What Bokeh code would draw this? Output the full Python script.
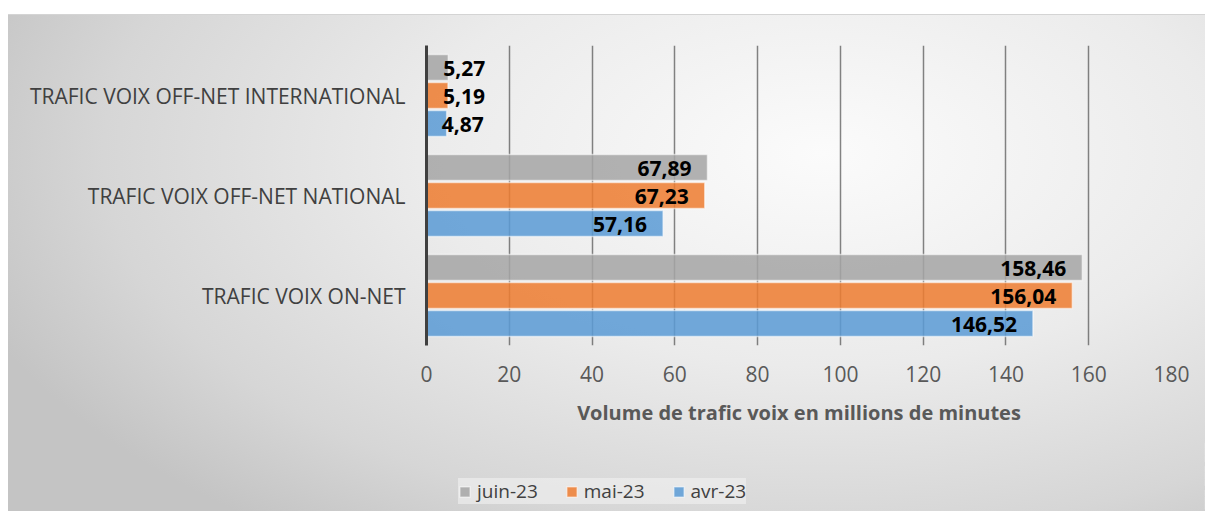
from bokeh.plotting import figure
from bokeh.models import ColumnDataSource, FactorRange, Range1d, Legend, LegendItem
from bokeh.layouts import column
from bokeh.transform import dodge
from bokeh.core.properties import value
from bokeh.embed import file_html
from bokeh.resources import INLINE

categories = ["TRAFIC VOIX ON-NET", "TRAFIC VOIX OFF-NET NATIONAL", "TRAFIC VOIX OFF-NET INTERNATIONAL"]
series_names = ["juin-23", "mai-23", "avr-23"]
juin = [158.46, 67.89, 5.27]
mai = [156.04, 67.23, 5.19]
avr = [146.52, 57.16, 4.87]
x_ticks = [0, 20, 40, 60, 80, 100, 120, 140, 160, 180]

colors = ["#A5A5A5", "#ED7D31", "#5B9BD5"]
offsets = [0.28, 0.0, -0.28]
FONT = "Open Sans"

p = figure(width=1197, height=425, y_range=FactorRange(factors=categories),
           x_range=Range1d(0, 180), output_backend="svg", toolbar_location=None,
           min_border_left=418, min_border_right=34, min_border_top=30, min_border_bottom=95)
p.background_fill_color = None
p.border_fill_color = None
p.outline_line_color = None
p.frame_align = False

data = {"cat": categories, "juin": juin, "mai": mai, "avr": avr}
src = ColumnDataSource(data)
keys = ["juin", "mai", "avr"]
bar_style = dict(height=0.26, fill_alpha=0.86, line_color="white", line_alpha=0.55, line_width=1.5)
for k, c, off in zip(keys, colors, offsets):
    p.hbar(y=dodge("cat", off, range=p.y_range), right=k, left=0, source=src, fill_color=c, **bar_style)
    big = {"cat": [], "v": [], "t": []}
    small = {"cat": [], "v": [], "t": []}
    for cat, v in zip(categories, data[k]):
        d = big if v >= 20 else small
        d["cat"].append(cat)
        d["v"].append(v)
        d["t"].append(f"{v:.2f}".replace(".", ","))
    p.text(x="v", y=dodge("cat", off, range=p.y_range), text="t", source=ColumnDataSource(big),
           text_align="right", text_baseline="middle", x_offset=-16, y_offset=1,
           text_font=value(FONT), text_font_style="bold", text_font_size="21px", text_color="black")
    p.text(x="v", y=dodge("cat", off, range=p.y_range), text="t", source=ColumnDataSource(small),
           text_align="left", text_baseline="middle", x_offset=-5, y_offset=1,
           text_font=value(FONT), text_font_style="bold", text_font_size="21px", text_color="black")

# grid
p.ygrid.grid_line_color = None
p.xgrid.grid_line_color = "#505050"
p.xgrid.grid_line_alpha = 0.7
p.xgrid.grid_line_width = 1.5
p.xaxis.ticker = x_ticks

# x axis
p.xaxis.axis_line_color = None
p.xaxis.major_tick_line_color = None
p.xaxis.minor_tick_line_color = None
p.xaxis.major_tick_out = 0
p.xaxis.major_label_standoff = 20
p.xaxis.major_label_text_font = FONT
p.xaxis.major_label_text_font_size = "21px"
p.xaxis.major_label_text_color = "#595959"
p.xaxis.axis_label = "Volume de trafic voix en millions de minutes"
p.xaxis.axis_label_text_font = FONT
p.xaxis.axis_label_text_font_style = "bold"
p.xaxis.axis_label_text_font_size = "20px"
p.xaxis.axis_label_text_color = "#595959"
p.xaxis.axis_label_standoff = 14

# y axis
p.yaxis.axis_line_color = "#404040"
p.yaxis.axis_line_width = 3
p.yaxis.major_tick_line_color = None
p.yaxis.minor_tick_line_color = None
p.yaxis.major_tick_out = 0
p.yaxis.major_label_standoff = 21
p.yaxis.major_label_text_font = FONT
p.yaxis.major_label_text_font_size = "21px"
p.yaxis.major_label_text_color = "#404040"

# legend strip: same series drawn outside its visible x range, so only the legend swatches show
pl = figure(width=1197, height=71, x_range=Range1d(-2, -1), y_range=FactorRange(factors=categories),
            x_axis_type=None, y_axis_type=None,
            output_backend="svg", toolbar_location=None,
            min_border_left=0, min_border_right=0, min_border_top=0, min_border_bottom=0)
pl.title = None
pl.frame_align = False
pl.grid.visible = False
pl.background_fill_color = None
pl.border_fill_color = None
pl.outline_line_color = None
proxies = []
for k, c, off in zip(keys, colors, offsets):
    proxies.append(pl.hbar(y=dodge("cat", off, range=pl.y_range), right=k, left=0, source=src,
                           fill_color=c, **bar_style))

legend = Legend(items=[LegendItem(label=n, renderers=[r]) for n, r in zip(series_names, proxies)],
                orientation="horizontal", location=(450, 7))
legend.label_text_font = FONT
legend.label_text_font_size = "19px"
legend.label_text_color = "#404040"
legend.glyph_width = 13
legend.glyph_height = 13
legend.label_standoff = 6
legend.spacing = 27
legend.padding = 11
legend.margin = 0
legend.background_fill_color = "#f2f2f2"
legend.background_fill_alpha = 0.6
legend.border_line_color = None
pl.add_layout(legend, "center")

layout = column(p, pl, spacing=0)
layout.margin = (15, 0, 0, 8)
layout.styles = {"background": "radial-gradient(ellipse 75% 95% at 68% 28%, #fbfbfb 0%, #ebebeb 45%, #d6d6d6 80%, #c4c4c4 100%)",
                 "box-shadow": "0 -1px 0 0 #d4d4d4"}

open("out.html", "w").write(file_html(layout, INLINE))
